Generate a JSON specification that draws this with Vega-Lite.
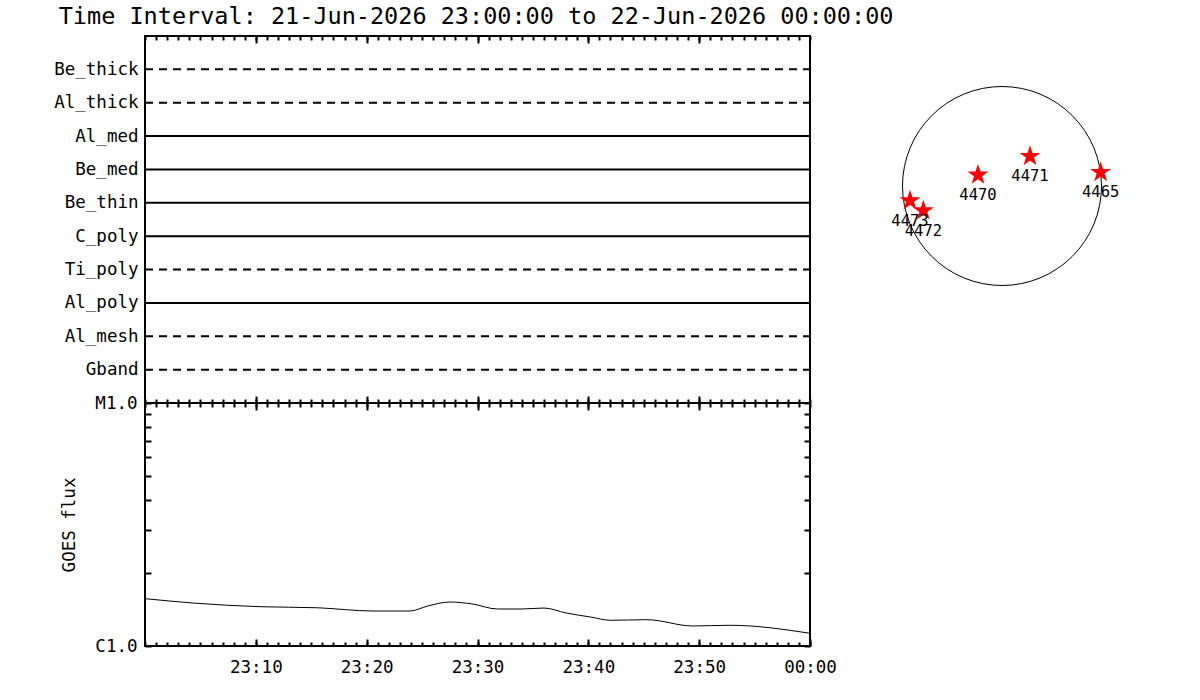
{
  "$schema": "https://vega.github.io/schema/vega-lite/v6.json",
  "background": "white",
  "padding": {"left": 52, "top": 4, "right": 0, "bottom": 0},
  "config": {
    "view": {"stroke": "black", "strokeWidth": 2},
    "axis": {"labelFont": "DejaVu Sans Mono", "labelFontSize": 17.5, "labelColor": "black", "titleFont": "DejaVu Sans Mono", "titleFontSize": 17.5, "titleFontWeight": "normal", "titleColor": "black", "domain": false, "grid": false, "tickColor": "black", "tickWidth": 2}
  },
  "title": {"text": "Time Interval: 21-Jun-2026 23:00:00 to 22-Jun-2026 00:00:00", "anchor": "start", "font": "DejaVu Sans Mono", "fontSize": 23.5, "fontWeight": "normal", "color": "black", "offset": 6, "dx": 6},
  "datasets": {
    "filters": [
      {"filter": "Be_thick", "used": "no", "start": "2026-06-21T23:00:00", "end": "2026-06-22T00:00:00"},
      {"filter": "Al_thick", "used": "no", "start": "2026-06-21T23:00:00", "end": "2026-06-22T00:00:00"},
      {"filter": "Al_med", "used": "yes", "start": "2026-06-21T23:00:00", "end": "2026-06-22T00:00:00"},
      {"filter": "Be_med", "used": "yes", "start": "2026-06-21T23:00:00", "end": "2026-06-22T00:00:00"},
      {"filter": "Be_thin", "used": "yes", "start": "2026-06-21T23:00:00", "end": "2026-06-22T00:00:00"},
      {"filter": "C_poly", "used": "yes", "start": "2026-06-21T23:00:00", "end": "2026-06-22T00:00:00"},
      {"filter": "Ti_poly", "used": "no", "start": "2026-06-21T23:00:00", "end": "2026-06-22T00:00:00"},
      {"filter": "Al_poly", "used": "yes", "start": "2026-06-21T23:00:00", "end": "2026-06-22T00:00:00"},
      {"filter": "Al_mesh", "used": "no", "start": "2026-06-21T23:00:00", "end": "2026-06-22T00:00:00"},
      {"filter": "Gband", "used": "no", "start": "2026-06-21T23:00:00", "end": "2026-06-22T00:00:00"}
    ],
    "goes": [
      {"time": "2026-06-21T23:00:00", "flux": 1.566e-6},
      {"time": "2026-06-21T23:04:18", "flux": 1.503e-6},
      {"time": "2026-06-21T23:10:24", "flux": 1.451e-6},
      {"time": "2026-06-21T23:15:30", "flux": 1.437e-6},
      {"time": "2026-06-21T23:20:36", "flux": 1.393e-6},
      {"time": "2026-06-21T23:23:54", "flux": 1.393e-6},
      {"time": "2026-06-21T23:25:30", "flux": 1.46e-6},
      {"time": "2026-06-21T23:27:30", "flux": 1.517e-6},
      {"time": "2026-06-21T23:29:30", "flux": 1.49e-6},
      {"time": "2026-06-21T23:31:48", "flux": 1.42e-6},
      {"time": "2026-06-21T23:34:00", "flux": 1.42e-6},
      {"time": "2026-06-21T23:36:00", "flux": 1.433e-6},
      {"time": "2026-06-21T23:38:00", "flux": 1.367e-6},
      {"time": "2026-06-21T23:40:12", "flux": 1.316e-6},
      {"time": "2026-06-21T23:42:00", "flux": 1.276e-6},
      {"time": "2026-06-21T23:45:18", "flux": 1.283e-6},
      {"time": "2026-06-21T23:49:24", "flux": 1.209e-6},
      {"time": "2026-06-21T23:52:48", "flux": 1.217e-6},
      {"time": "2026-06-22T00:00:00", "flux": 1.128e-6}
    ],
    "ars": [
      {"ar": "4470", "hx": -228, "hy": 105},
      {"ar": "4471", "hx": 266, "hy": 282},
      {"ar": "4465", "hx": 937, "hy": 130},
      {"ar": "4473", "hx": -874, "hy": -139},
      {"ar": "4472", "hx": -747, "hy": -234}
    ],
    "disk": [{"hx": 0, "hy": 0}]
  },
  "spacing": 32,
  "hconcat": [
    {
      "spacing": 0,
      "bounds": "flush",
      "vconcat": [
        {
          "width": 665, "height": 367,
          "data": {"name": "filters"},
          "layer": [
            {
              "mark": {"type": "rule", "strokeWidth": 2, "color": "black"},
              "encoding": {
                "x": {"field": "start", "type": "temporal",
                      "scale": {"domain": [{"year": 2026, "month": 6, "date": 21, "hours": 23, "minutes": 0}, {"year": 2026, "month": 6, "date": 22, "hours": 0, "minutes": 0}]},
                      "axis": {"orient": "top", "labels": false, "title": null, "tickSize": -4, "tickCount": 30}},
                "x2": {"field": "end"},
                "y": {"field": "filter", "type": "nominal",
                      "scale": {"type": "point", "padding": 1, "domain": ["Be_thick", "Al_thick", "Al_med", "Be_med", "Be_thin", "C_poly", "Ti_poly", "Al_poly", "Al_mesh", "Gband"]},
                      "axis": {"orient": "left", "ticks": false, "labelPadding": 7, "title": null}},
                "strokeDash": {"field": "used", "type": "nominal", "scale": {"domain": ["no", "yes"], "range": [[8, 6], [1, 0]]}, "legend": null}
              }
            },
            {
              "mark": {"type": "rule", "opacity": 0},
              "encoding": {
                "x": {"field": "start", "type": "temporal", "axis": {"orient": "top", "labels": false, "title": null, "tickSize": -7,
                      "values": [
                        {"year": 2026, "month": 6, "date": 21, "hours": 23, "minutes": 10},
                        {"year": 2026, "month": 6, "date": 21, "hours": 23, "minutes": 20},
                        {"year": 2026, "month": 6, "date": 21, "hours": 23, "minutes": 30},
                        {"year": 2026, "month": 6, "date": 21, "hours": 23, "minutes": 40},
                        {"year": 2026, "month": 6, "date": 21, "hours": 23, "minutes": 50}
                      ]}},
                "x2": {"field": "end"},
                "y": {"field": "filter", "type": "nominal", "axis": {"orient": "left", "ticks": false, "labelPadding": 7, "title": null}}
              }
            },
            {
              "mark": {"type": "rule", "opacity": 0},
              "encoding": {
                "x": {"field": "start", "type": "temporal", "axis": {"orient": "bottom", "labels": false, "title": null, "tickSize": -4, "tickCount": 30}},
                "x2": {"field": "end"},
                "y": {"field": "filter", "type": "nominal", "axis": {"orient": "left", "ticks": false, "labelPadding": 7, "title": null}}
              }
            },
            {
              "mark": {"type": "rule", "opacity": 0},
              "encoding": {
                "x": {"field": "start", "type": "temporal", "axis": {"orient": "bottom", "labels": false, "title": null, "tickSize": -7,
                      "values": [
                        {"year": 2026, "month": 6, "date": 21, "hours": 23, "minutes": 10},
                        {"year": 2026, "month": 6, "date": 21, "hours": 23, "minutes": 20},
                        {"year": 2026, "month": 6, "date": 21, "hours": 23, "minutes": 30},
                        {"year": 2026, "month": 6, "date": 21, "hours": 23, "minutes": 40},
                        {"year": 2026, "month": 6, "date": 21, "hours": 23, "minutes": 50}
                      ]}},
                "x2": {"field": "end"},
                "y": {"field": "filter", "type": "nominal", "axis": {"orient": "left", "ticks": false, "labelPadding": 7, "title": null}}
              }
            }
          ],
          "resolve": {"axis": {"x": "independent"}}
        },
        {
          "width": 665, "height": 243,
          "data": {"name": "goes"},
          "layer": [
            {
              "mark": {"type": "line", "color": "black", "strokeWidth": 1, "interpolate": "monotone"},
              "encoding": {
                "x": {"field": "time", "type": "temporal",
                      "scale": {"domain": [{"year": 2026, "month": 6, "date": 21, "hours": 23, "minutes": 0}, {"year": 2026, "month": 6, "date": 22, "hours": 0, "minutes": 0}]},
                      "axis": {"orient": "bottom", "title": null, "format": "%H:%M", "labelOverlap": false, "labelFlush": false, "labelPadding": 19, "tickSize": -7,
                               "values": [
                                 {"year": 2026, "month": 6, "date": 21, "hours": 23, "minutes": 10},
                                 {"year": 2026, "month": 6, "date": 21, "hours": 23, "minutes": 20},
                                 {"year": 2026, "month": 6, "date": 21, "hours": 23, "minutes": 30},
                                 {"year": 2026, "month": 6, "date": 21, "hours": 23, "minutes": 40},
                                 {"year": 2026, "month": 6, "date": 21, "hours": 23, "minutes": 50},
                                 {"year": 2026, "month": 6, "date": 22, "hours": 0, "minutes": 0}
                               ]}},
                "y": {"field": "flux", "type": "quantitative",
                      "scale": {"type": "log", "domain": [1e-6, 1e-5], "nice": false},
                      "axis": {"orient": "left", "title": "GOES flux", "titlePadding": 16,
                               "values": [1e-6, 2e-6, 3e-6, 4e-6, 5e-6, 6e-6, 7e-6, 8e-6, 9e-6, 1e-5],
                               "labelExpr": "datum.value < 1.01e-6 ? 'C1.0' : (datum.value > 0.99e-5 ? 'M1.0' : '')",
                               "labelOverlap": false, "tickSize": -6, "labelPadding": 14}}
              }
            },
            {
              "mark": {"type": "line", "strokeOpacity": 0},
              "encoding": {
                "x": {"field": "time", "type": "temporal", "axis": {"orient": "bottom", "labels": false, "title": null, "tickSize": -4, "tickCount": 30}},
                "y": {"field": "flux", "type": "quantitative",
                      "axis": {"orient": "right", "title": null, "labels": false, "values": [1e-6, 2e-6, 3e-6, 4e-6, 5e-6, 6e-6, 7e-6, 8e-6, 9e-6, 1e-5], "tickSize": -6}}
              }
            },
            {
              "mark": {"type": "line", "strokeOpacity": 0},
              "encoding": {
                "x": {"field": "time", "type": "temporal", "axis": {"orient": "top", "labels": false, "title": null, "tickSize": -4, "tickCount": 30}},
                "y": {"field": "flux", "type": "quantitative",
                      "axis": {"orient": "right", "title": null, "labels": false, "ticks": false}}
              }
            },
            {
              "mark": {"type": "line", "strokeOpacity": 0},
              "encoding": {
                "x": {"field": "time", "type": "temporal", "axis": {"orient": "top", "labels": false, "title": null, "tickSize": -7,
                      "values": [
                        {"year": 2026, "month": 6, "date": 21, "hours": 23, "minutes": 10},
                        {"year": 2026, "month": 6, "date": 21, "hours": 23, "minutes": 20},
                        {"year": 2026, "month": 6, "date": 21, "hours": 23, "minutes": 30},
                        {"year": 2026, "month": 6, "date": 21, "hours": 23, "minutes": 40},
                        {"year": 2026, "month": 6, "date": 21, "hours": 23, "minutes": 50}
                      ]}},
                "y": {"field": "flux", "type": "quantitative",
                      "axis": {"orient": "right", "title": null, "labels": false, "ticks": false}}
              }
            }
          ],
          "resolve": {"axis": {"x": "independent", "y": "independent"}}
        }
      ]
    },
    {
      "width": 260,
      "height": 300,
      "view": {"stroke": null},
      "layer": [
        {
          "data": {"name": "disk"},
          "mark": {"type": "point", "shape": "circle", "size": 39601, "filled": false, "color": "black", "strokeWidth": 1, "opacity": 1},
          "encoding": {
            "x": {"field": "hx", "type": "quantitative", "scale": {"domain": [-1254, 1216], "nice": false, "zero": false}, "axis": null},
            "y": {"field": "hy", "type": "quantitative", "scale": {"domain": [-1425, 1425], "nice": false, "zero": false}, "axis": null}
          }
        },
        {
          "data": {"name": "ars"},
          "mark": {"type": "point", "shape": "M0,-1L0.2245,-0.309L0.951,-0.309L0.363,0.118L0.588,0.809L0,0.382L-0.588,0.809L-0.363,0.118L-0.951,-0.309L-0.2245,-0.309Z", "size": 480, "filled": true, "color": "#ff0000", "opacity": 1},
          "encoding": {
            "x": {"field": "hx", "type": "quantitative", "axis": null},
            "y": {"field": "hy", "type": "quantitative", "axis": null}
          }
        },
        {
          "data": {"name": "ars"},
          "mark": {"type": "text", "dy": 20, "font": "DejaVu Sans Mono", "fontSize": 15.5, "color": "black", "baseline": "middle"},
          "encoding": {
            "x": {"field": "hx", "type": "quantitative", "axis": null},
            "y": {"field": "hy", "type": "quantitative", "axis": null},
            "text": {"field": "ar"}
          }
        }
      ]
    }
  ]
}
